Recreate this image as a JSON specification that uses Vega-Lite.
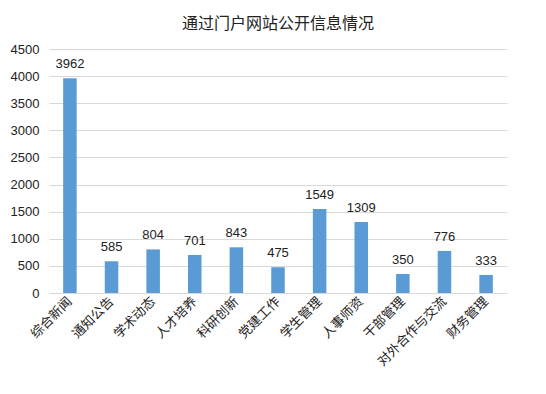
{
  "$schema": "https://vega.github.io/schema/vega-lite/v6.json",
  "autosize": "none",
  "width": 458,
  "height": 244,
  "padding": {"left": 49, "top": 49, "right": 39, "bottom": 101},
  "background": "white",
  "title": {"text": "通过门户网站公开信息情况", "font": "Noto Sans CJK SC", "fontSize": 16, "fontWeight": "normal", "color": "#222222", "anchor": "middle", "offset": 11},
  "data": {"values": [
    {"cat": "综合新闻", "v": 3962},
    {"cat": "通知公告", "v": 585},
    {"cat": "学术动态", "v": 804},
    {"cat": "人才培养", "v": 701},
    {"cat": "科研创新", "v": 843},
    {"cat": "党建工作", "v": 475},
    {"cat": "学生管理", "v": 1549},
    {"cat": "人事师资", "v": 1309},
    {"cat": "干部管理", "v": 350},
    {"cat": "对外合作与交流", "v": 776},
    {"cat": "财务管理", "v": 333}
  ]},
  "config": {"view": {"stroke": null}},
  "encoding": {
    "x": {"field": "cat", "type": "nominal", "sort": null,
      "scale": {"paddingInner": 0.675, "paddingOuter": 0.34},
      "axis": {"title": null, "labelAngle": -45, "labelAlign": "right", "labelBaseline": "middle", "labelFont": "Noto Sans CJK SC", "labelFontSize": 13, "labelColor": "#222222", "ticks": false, "domainColor": "#d9d9d9", "labelPadding": 6}},
    "y": {"field": "v", "type": "quantitative",
      "scale": {"domain": [0, 4500]},
      "axis": {"title": null, "values": [0,500,1000,1500,2000,2500,3000,3500,4000,4500], "format": "d", "domain": false, "ticks": false, "gridColor": "#d9d9d9", "labelFont": "Liberation Sans", "labelFontSize": 13, "labelColor": "#222222", "labelPadding": 10}}
  },
  "layer": [
    {"mark": {"type": "bar", "color": "#5B9BD5"}},
    {"mark": {"type": "text", "baseline": "bottom", "dy": -7, "font": "Liberation Sans", "fontSize": 13, "color": "#222222"},
     "encoding": {"text": {"field": "v", "type": "quantitative", "format": "d"}}}
  ]
}
